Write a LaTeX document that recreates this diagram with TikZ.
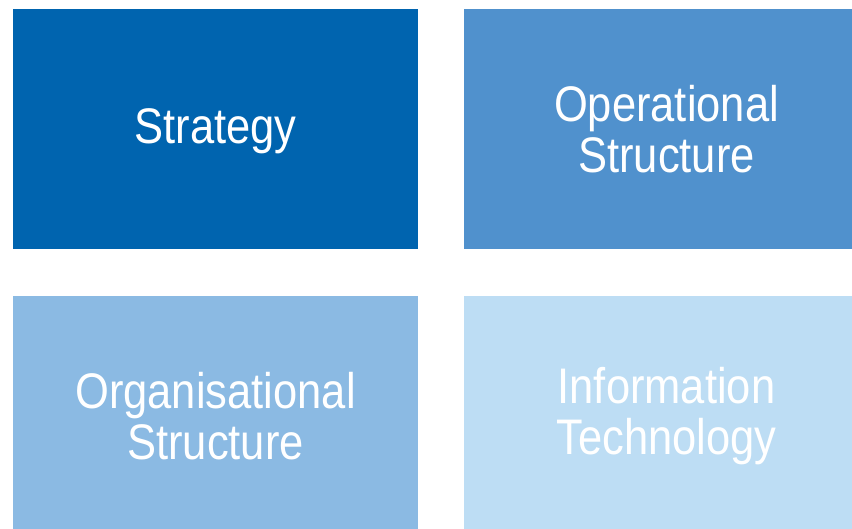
\documentclass[tikz,border=0pt]{standalone}
\usepackage{fontspec}
\setmainfont{Liberation Sans}[FakeStretch=0.87]
\definecolor{cA}{RGB}{0,100,175}
\definecolor{cB}{RGB}{80,145,205}
\definecolor{cC}{RGB}{139,186,227}
\definecolor{cD}{RGB}{189,221,244}
\begin{document}
\begin{tikzpicture}[x=1pt,y=-1pt,
  tile/.style={anchor=north west,minimum width=405pt,minimum height=240pt,inner sep=0pt,outer sep=0pt,draw=none},
  lbl/.style={text=white,align=center,font=\fontsize{50}{51}\selectfont}]
\useasboundingbox (0,0) rectangle (852,529);
\clip (0,0) rectangle (852,529);
\node[tile,fill=cA] (s) at (13,9) {};
\node[tile,fill=cB] (o) at (464,9) {};
\node[tile,fill=cC] (g) at (13,296) {};
\node[tile,fill=cD] (i) at (464,296) {};
\node[lbl] (ts) at ([yshift=-2pt]s.center) {Strategy};
\node[lbl] (to) at (o.center) {Operational\\Structure};
\node[lbl] (tg) at (g.center) {Organisational\\Structure};
\node[lbl] (ti) at (i.center) {Information\\Technology};
\end{tikzpicture}
\end{document}
